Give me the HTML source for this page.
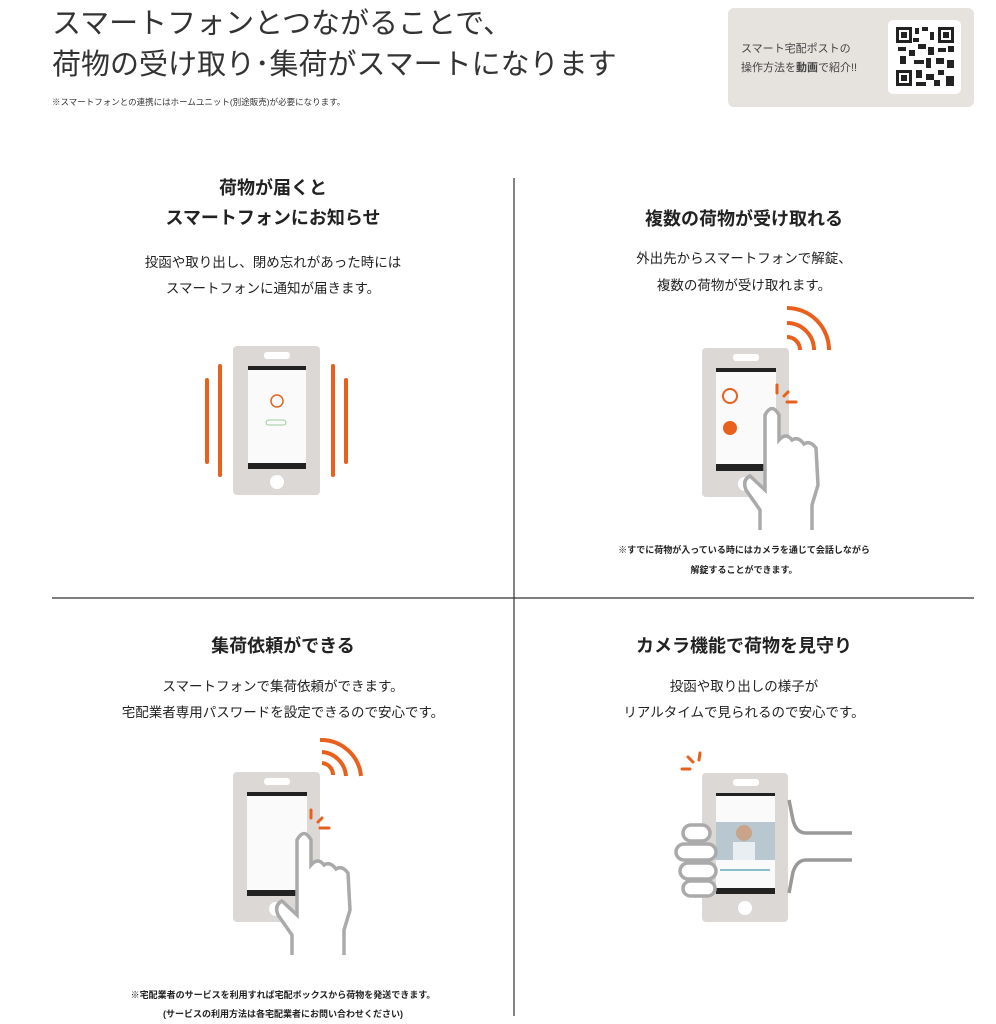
<!DOCTYPE html>
<html><head><meta charset="utf-8"><style>
html,body{margin:0;padding:0;background:#fff;}
svg{display:block;font-family:"Liberation Sans","Noto Sans CJK JP",sans-serif;}
</style></head><body>
<svg width="996" height="1024" viewBox="0 0 996 1024" xmlns="http://www.w3.org/2000/svg">
<rect width="996" height="1024" fill="#fff"/>
<!-- header -->
<text x="52" y="33" font-size="29" fill="#333">スマートフォンとつながることで、</text>
<text x="52" y="74" font-size="29" fill="#333">荷物の受け取り･集荷がスマートになります</text>
<text x="52" y="105" font-size="8.5" fill="#333">※スマートフォンとの連携にはホームユニット(別途販売)が必要になります。</text>
<rect x="728" y="8" width="246" height="99" rx="6" fill="#e6e2de"/>
<text x="741" y="52" font-size="11" fill="#444">スマート宅配ポストの</text>
<text x="741" y="71" font-size="11" fill="#444">操作方法を<tspan font-weight="bold">動画</tspan>で紹介!!</text>
<rect x="888" y="20" width="73" height="74" rx="5" fill="#fff"/>
<g fill="#222">
<rect x="896" y="27" width="16" height="16"/><rect x="899" y="30" width="10" height="10" fill="#fff"/><rect x="901" y="32" width="6" height="6"/>
<rect x="938" y="27" width="16" height="16"/><rect x="941" y="30" width="10" height="10" fill="#fff"/><rect x="943" y="32" width="6" height="6"/>
<rect x="896" y="70" width="16" height="16"/><rect x="899" y="73" width="10" height="10" fill="#fff"/><rect x="901" y="75" width="6" height="6"/>
<rect x="915" y="28" width="4" height="6"/><rect x="922" y="27" width="6" height="4"/><rect x="930" y="32" width="4" height="8"/>
<rect x="898" y="47" width="8" height="4"/><rect x="909" y="50" width="6" height="6"/><rect x="918" y="44" width="8" height="5"/>
<rect x="928" y="47" width="6" height="8"/><rect x="938" y="48" width="8" height="4"/><rect x="948" y="46" width="6" height="6"/>
<rect x="900" y="56" width="6" height="8"/><rect x="914" y="60" width="10" height="4"/><rect x="926" y="58" width="5" height="10"/>
<rect x="936" y="58" width="8" height="6"/><rect x="947" y="60" width="7" height="8"/><rect x="916" y="70" width="6" height="8"/>
<rect x="926" y="74" width="8" height="6"/><rect x="938" y="70" width="6" height="5"/><rect x="946" y="76" width="8" height="10"/>
<rect x="916" y="82" width="10" height="4"/><rect x="934" y="80" width="6" height="6"/><rect x="913" y="38" width="6" height="4"/>
</g>
<!-- grid -->
<line x1="514" y1="178" x2="514" y2="1016" stroke="#333" stroke-width="1.2"/>
<line x1="52" y1="598" x2="974" y2="598" stroke="#333" stroke-width="1.2"/>
<!-- section texts -->
<g font-weight="bold" font-size="18" fill="#222" text-anchor="middle">
<text x="273" y="194">荷物が届くと</text>
<text x="273" y="224">スマートフォンにお知らせ</text>
<text x="744" y="225">複数の荷物が受け取れる</text>
<text x="283" y="652">集荷依頼ができる</text>
<text x="744" y="652">カメラ機能で荷物を見守り</text>
</g>
<g font-size="13.5" fill="#222" text-anchor="middle">
<text x="273" y="267">投函や取り出し、閉め忘れがあった時には</text>
<text x="273" y="293">スマートフォンに通知が届きます。</text>
<text x="744" y="263">外出先からスマートフォンで解錠、</text>
<text x="744" y="290">複数の荷物が受け取れます。</text>
<text x="283" y="691">スマートフォンで集荷依頼ができます。</text>
<text x="283" y="717">宅配業者専用パスワードを設定できるので安心です。</text>
<text x="744" y="691">投函や取り出しの様子が</text>
<text x="744" y="717">リアルタイムで見られるので安心です。</text>
</g>
<g font-size="9" fill="#222" text-anchor="middle" font-weight="bold">
<text x="744" y="553">※すでに荷物が入っている時にはカメラを通じて会話しながら</text>
<text x="744" y="573">解錠することができます。</text>
<text x="283" y="998">※宅配業者のサービスを利用すれば宅配ボックスから荷物を発送できます。</text>
<text x="283" y="1017">(サービスの利用方法は各宅配業者にお問い合わせください)</text>
</g>
<!-- phone 1 -->
<g>
<rect x="233" y="346" width="87" height="149" rx="4" fill="#dcd8d5"/>
<rect x="264" y="352" width="26" height="7" rx="3" fill="#fff"/>
<circle cx="277" cy="482" r="7" fill="#fff"/>
<rect x="248" y="366" width="58" height="103" fill="#fafafa"/>
<rect x="248" y="366" width="58" height="4" fill="#222"/>
<rect x="248" y="463" width="58" height="6" fill="#222"/>
<circle cx="277" cy="401" r="6" fill="none" stroke="#e8601c" stroke-width="1.5"/>
<rect x="266" y="420" width="20" height="5" rx="2.5" fill="none" stroke="#9c9" stroke-width="1"/>
<g stroke="#e8601c" stroke-width="4" stroke-linecap="round">
<line x1="207" y1="380" x2="207" y2="462"/><line x1="220" y1="366" x2="220" y2="475"/>
<line x1="333" y1="366" x2="333" y2="475"/><line x1="346" y1="380" x2="346" y2="462"/>
</g>
</g>
<!-- phone 2 -->
<g>
<rect x="702" y="348" width="87" height="149" rx="4" fill="#dcd8d5"/>
<g fill="none" stroke="#e8601c" stroke-width="4">
<path d="M787 308 A42 42 0 0 1 829 350"/>
<path d="M787 323 A27 27 0 0 1 814 350"/>
<path d="M787 337 A13 13 0 0 1 800 350"/>
</g>
<rect x="733" y="354" width="26" height="7" rx="3" fill="#fff"/>
<circle cx="745" cy="484" r="7" fill="#fff"/>
<rect x="716" y="368" width="60" height="103" fill="#fafafa"/>
<rect x="716" y="368" width="60" height="4" fill="#222"/>
<rect x="716" y="464" width="60" height="7" fill="#222"/>
<circle cx="730" cy="396" r="7" fill="none" stroke="#e8601c" stroke-width="2"/>
<circle cx="730" cy="428" r="7" fill="#e8601c"/>
<g stroke="#e8601c" stroke-width="3" stroke-linecap="round"><line x1="777" y1="385" x2="777" y2="393"/><line x1="784" y1="396" x2="788" y2="392"/><line x1="787" y1="402" x2="796" y2="402"/></g>
<path d="M760 530 L760 510 L746 490 Q742 480 750 476 L765 490 L765 415 Q772 402 779 415 L779 440 Q786 432 792 440 Q798 436 804 444 Q810 440 816 448 L818 485 L812 505 L812 530" fill="#fff" stroke="#aaa" stroke-width="3.5"/>
</g>
<!-- phone 3 -->
<g>
<path d="M320 740 A40 40 0 0 1 361 776" fill="none" stroke="#e8601c" stroke-width="4"/>
<path d="M322 752 A26 26 0 0 1 346 776" fill="none" stroke="#e8601c" stroke-width="4"/>
<path d="M322 763 A12 12 0 0 1 333 775" fill="none" stroke="#e8601c" stroke-width="4"/>
<rect x="233" y="772" width="87" height="150" rx="4" fill="#dcd8d5"/>
<rect x="264" y="778" width="26" height="7" rx="3" fill="#fff"/>
<circle cx="276" cy="909" r="7" fill="#fff"/>
<rect x="247" y="792" width="60" height="104" fill="#fafafa"/>
<rect x="247" y="792" width="60" height="4" fill="#222"/>
<rect x="247" y="890" width="60" height="6" fill="#222"/>
<g stroke="#e8601c" stroke-width="3" stroke-linecap="round"><line x1="311" y1="810" x2="311" y2="818"/><line x1="318" y1="822" x2="322" y2="818"/><line x1="320" y1="828" x2="329" y2="828"/></g>
<path d="M292 955 L292 935 L278 915 Q274 905 282 901 L297 915 L297 840 Q304 827 311 840 L311 865 Q318 857 324 865 Q330 861 336 869 Q342 865 348 873 L350 910 L344 930 L344 955" fill="#fff" stroke="#aaa" stroke-width="3.5"/>
</g>
<!-- phone 4 -->
<g>
<g stroke="#e8601c" stroke-width="3" stroke-linecap="round"><line x1="682" y1="769" x2="690" y2="769"/><line x1="688" y1="757" x2="693" y2="762"/><line x1="700" y1="753" x2="699" y2="760"/></g>
<rect x="702" y="773" width="86" height="149" rx="4" fill="#dcd8d5"/>
<rect x="733" y="779" width="26" height="7" rx="3" fill="#fff"/>
<circle cx="745" cy="908" r="7" fill="#fff"/>
<rect x="716" y="793" width="59" height="101" fill="#fafafa"/>
<rect x="716" y="793" width="59" height="3" fill="#222"/>
<rect x="716" y="888" width="59" height="6" fill="#222"/>
<rect x="716" y="822" width="59" height="38" fill="#b9c8d0"/>
<circle cx="744" cy="833" r="8" fill="#c9a48a"/>
<rect x="733" y="842" width="22" height="18" fill="#e8eef2"/>
<line x1="720" y1="870" x2="770" y2="870" stroke="#6ab" stroke-width="1.5"/>
<path d="M789 800 L793 820 Q796 833 806 833 L852 833 M789 893 L793 872 Q797 860 806 860 L852 860" fill="none" stroke="#999" stroke-width="3.5"/>
<g fill="#fff" stroke="#aaa" stroke-width="3.5">
<rect x="683" y="825" width="27" height="16" rx="8"/>
<rect x="676" y="844" width="40" height="16" rx="8"/>
<rect x="680" y="863" width="36" height="16" rx="8"/>
<rect x="683" y="881" width="32" height="15" rx="7.5"/>
</g>
</g>
</svg>
</body></html>
